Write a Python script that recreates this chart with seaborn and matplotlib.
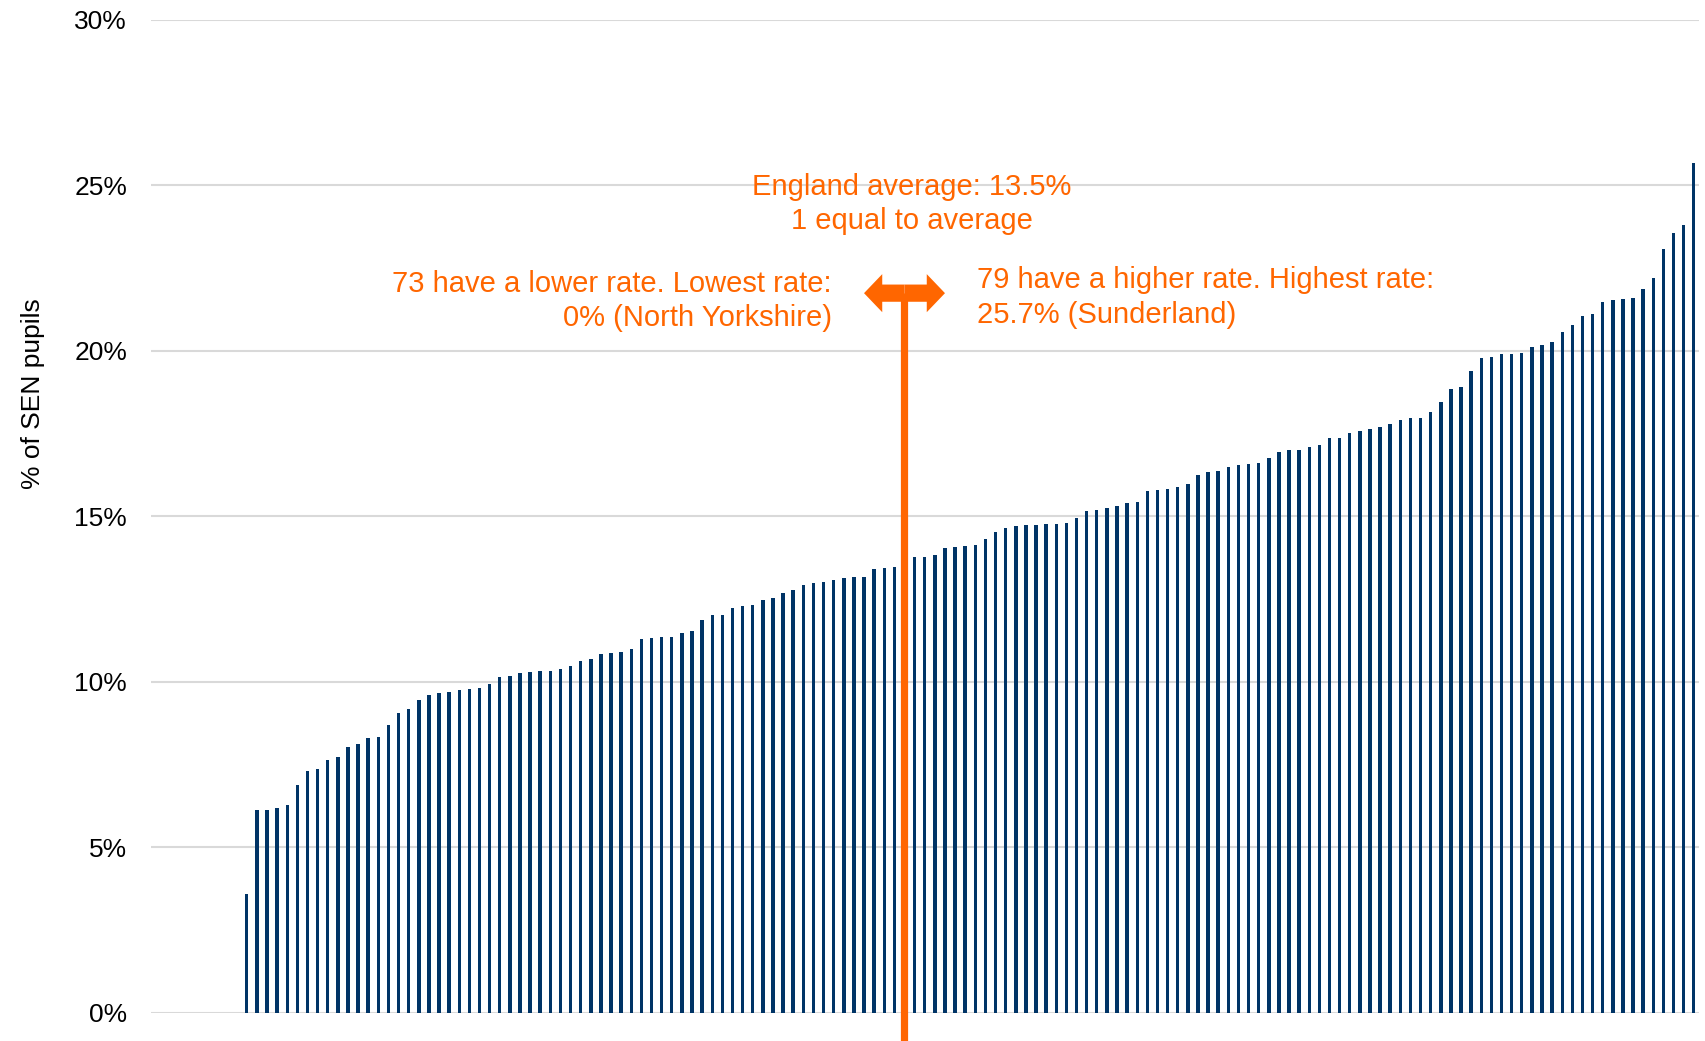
import numpy as np
import pandas as pd
import matplotlib
matplotlib.use('Agg')
import matplotlib.pyplot as plt
import seaborn as sns
from matplotlib.ticker import PercentFormatter

# data: SEN pupil rate per local authority, sorted ascending (%)
n_zero = 9
rates = [0.0] * n_zero + [
    3.60, 6.11, 6.11, 6.19, 6.27,
    6.87, 7.30, 7.36, 7.63, 7.72,
    8.02, 8.11, 8.30, 8.32, 8.69,
    9.05, 9.18, 9.45, 9.59, 9.65,
    9.68, 9.75, 9.78, 9.80, 9.93,
    10.14, 10.17, 10.25, 10.28, 10.32,
    10.32, 10.37, 10.47, 10.62, 10.69,
    10.85, 10.86, 10.89, 10.98, 11.29,
    11.33, 11.35, 11.35, 11.46, 11.52,
    11.87, 12.01, 12.02, 12.22, 12.29,
    12.32, 12.46, 12.53, 12.69, 12.76,
    12.92, 12.97, 13.00, 13.07, 13.12,
    13.15, 13.16, 13.41, 13.43, 13.47,
    13.50,
    13.77, 13.78, 13.84, 14.04, 14.06,
    14.09, 14.14, 14.30, 14.51, 14.65,
    14.69, 14.72, 14.73, 14.76, 14.78,
    14.79, 14.95, 15.15, 15.19, 15.24,
    15.32, 15.41, 15.42, 15.76, 15.79,
    15.81, 15.87, 15.96, 16.24, 16.34,
    16.36, 16.49, 16.56, 16.57, 16.62,
    16.75, 16.93, 17.00, 17.00, 17.10,
    17.15, 17.36, 17.37, 17.50, 17.57,
    17.63, 17.69, 17.79, 17.90, 17.96,
    17.98, 18.16, 18.45, 18.84, 18.90,
    19.39, 19.79, 19.80, 19.89, 19.91,
    19.92, 20.12, 20.18, 20.27, 20.57,
    20.77, 21.05, 21.10, 21.47, 21.52,
    21.56, 21.58, 21.87, 22.20, 23.07,
    23.55, 23.79, 25.67,
]
england_avg = 13.5
avg_index = 74  # position of the authority equal to the average
y_ticks = [0, 5, 10, 15, 20, 25, 30]

label_avg = 'England average: 13.5%\n1 equal to average'
label_low = '73 have a lower rate. Lowest rate:\n0% (North Yorkshire)'
label_high = '79 have a higher rate. Highest rate:\n25.7% (Sunderland)'

navy = '#003466'
orange = '#FF6600'

df = pd.DataFrame({'la': np.arange(len(rates)), 'rate': rates})

sns.set_style('white')
plt.rcParams['font.family'] = ['Liberation Sans', 'DejaVu Sans']

fig = plt.figure(figsize=(17.06, 10.41), dpi=100)
ax = fig.add_axes([0.0883, 0.0272, 0.9075, 0.9538])

sns.barplot(data=df, x='la', y='rate', color=navy, width=0.34,
            saturation=1, errorbar=None, linewidth=0, ax=ax, zorder=2)

ax.set_xlim(-0.5, len(rates) - 0.5)
ax.set_ylim(0, 30)
ax.set_yticks(y_ticks)
ax.yaxis.set_major_formatter(PercentFormatter(decimals=0))
ax.set_xticks([])
ax.set_xlabel('')
ax.set_ylabel('% of SEN pupils', fontsize=19, color='black')
ax.yaxis.set_label_coords(-0.068, 0.623)
ax.tick_params(axis='y', length=0, pad=17, labelsize=19, labelcolor='black')
ax.grid(axis='y', color='#D9D9D9', linewidth=1.5, zorder=0)
ax.set_axisbelow(True)
sns.despine(ax=ax, left=True, bottom=True)

# orange marker line for the average authority
arrow_y = 21.74
ax.plot([avg_index, avg_index], [-1.0, arrow_y], color=orange, lw=5.2,
        solid_capstyle='butt', clip_on=False, zorder=5)
for d in (-4.0, 4.0):
    ax.arrow(avg_index, arrow_y, d, 0, width=0.52, head_width=1.15,
             head_length=1.8, length_includes_head=True,
             color=orange, lw=0, zorder=6, clip_on=False)

ax.text(avg_index + 0.7, 24.43, label_avg, ha='center', va='center',
        fontsize=21, color=orange, linespacing=1.3)
ax.text(avg_index - 7.2, 21.5, label_low, ha='right', va='center',
        fontsize=21, color=orange, linespacing=1.3)
ax.text(avg_index + 7.2, 21.6, label_high, ha='left', va='center',
        fontsize=21, color=orange, linespacing=1.3)

fig.savefig('out.png', dpi=100)
